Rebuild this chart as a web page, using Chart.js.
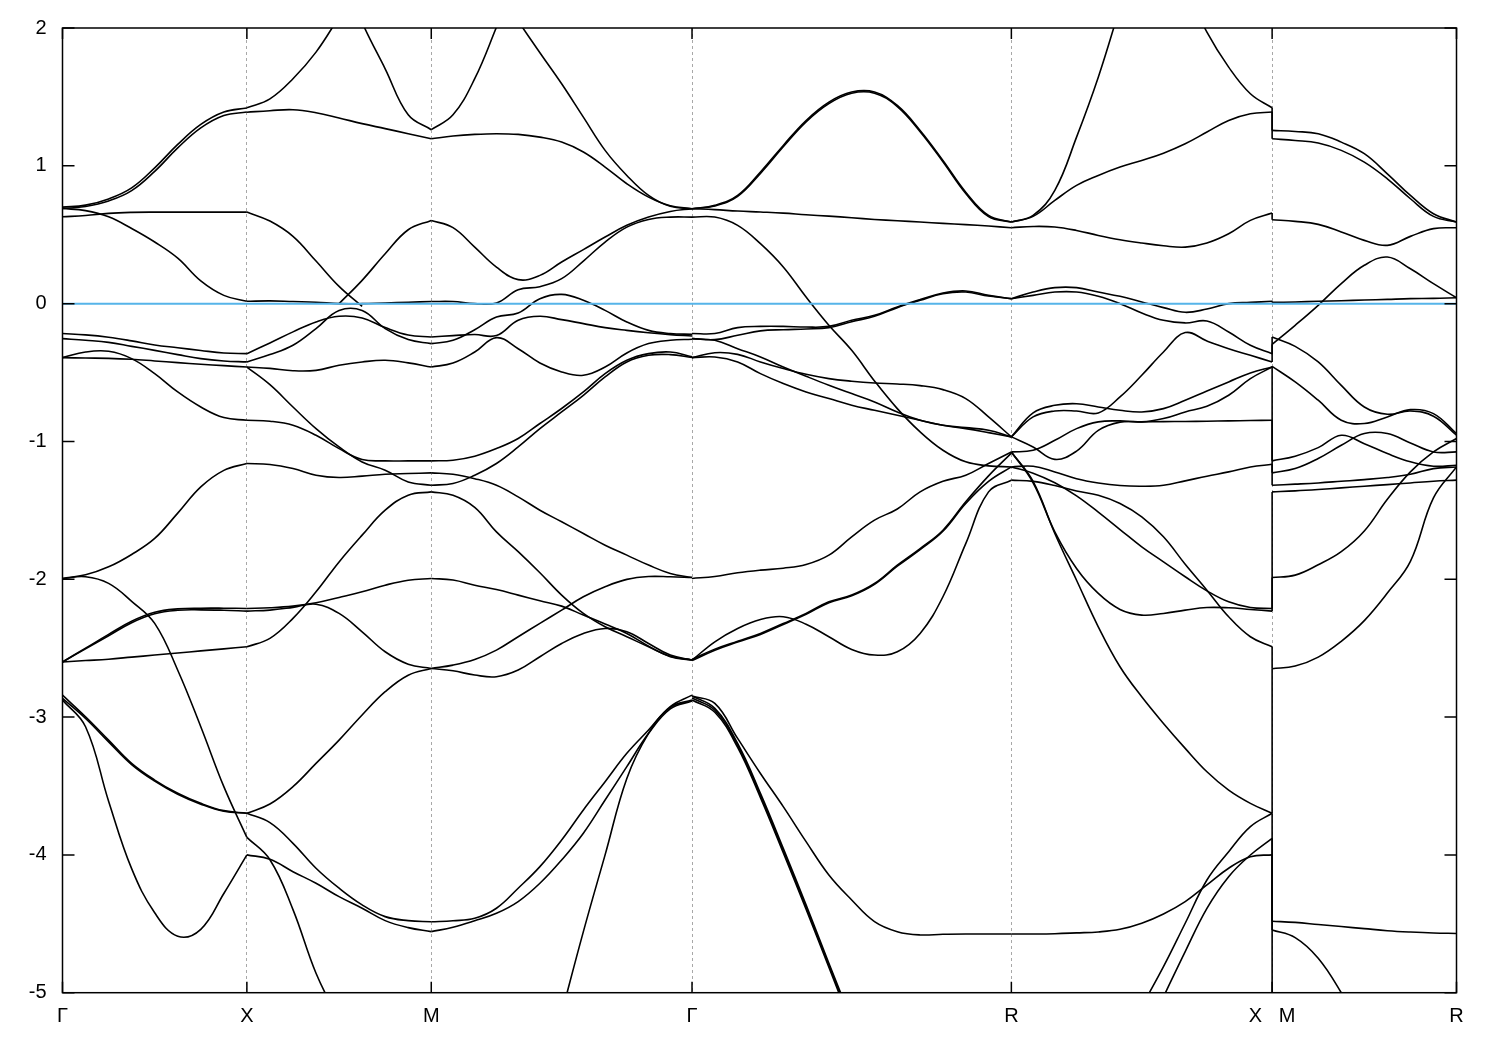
<!DOCTYPE html>
<html>
<head>
<meta charset="utf-8">
<title>Band structure</title>
<script src="https://cdn.jsdelivr.net/npm/chart.js@4.4.1/dist/chart.umd.min.js"></script>
<style>
  html, body { margin: 0; padding: 0; background: #fff; }
  canvas { display: block; }
</style>
</head>
<body>
<canvas id="bands" width="1500" height="1050"></canvas>
<script>
// k-path: G-X-M-G-R-X|M-R (distance along path, 2pi/a units)
const kNodes = [0, 0.5, 1.0, 1.7071, 2.5731, 3.2802, 3.7802];
const kLabels = ["Γ", "X", "M", "Γ", "R", "X   M", "R"];
const eMin = -5, eMax = 2, eStep = 1;
const fermiLevel = 0;

// G -> X (9 samples)
const gxA1 = [0.70, 0.715, 0.76, 0.84, 0.985, 1.155, 1.30, 1.39, 1.42];
const gxA2 = [0.69, 0.705, 0.745, 0.82, 0.96, 1.13, 1.275, 1.365, 1.39];
const gxB = [0.63, 0.64, 0.655, 0.662, 0.664, 0.664, 0.664, 0.664, 0.664];
const gxC = [0.69, 0.675, 0.63, 0.545, 0.447, 0.33, 0.165, 0.06, 0.017];
const gxD = [-0.217, -0.227, -0.244, -0.27, -0.30, -0.32, -0.34, -0.358, -0.363];
const gxE = [-0.254, -0.266, -0.281, -0.31, -0.339, -0.37, -0.399, -0.416, -0.423];
const gxF = [-0.392, -0.395, -0.397, -0.404, -0.416, -0.428, -0.44, -0.45, -0.46];
const gxG = [-0.392, -0.351, -0.346, -0.399, -0.508, -0.641, -0.75, -0.827, -0.846];
const gxH = [-1.994, -1.968, -1.91, -1.82, -1.704, -1.52, -1.33, -1.21, -1.16];
const gxI = [-1.994, -1.982, -2.03, -2.16, -2.32, -2.66, -3.07, -3.505, -3.873];
const gxJ = [-2.60, -2.50, -2.40, -2.305, -2.24, -2.215, -2.21, -2.21, -2.212];
const gxK = [-2.60, -2.505, -2.41, -2.315, -2.25, -2.225, -2.222, -2.225, -2.231];
const gxL = [-2.60, -2.59, -2.58, -2.565, -2.55, -2.535, -2.52, -2.505, -2.49];
const gxM = [-2.841, -2.998, -3.167, -3.336, -3.457, -3.553, -3.626, -3.679, -3.698];
const gxN = [-2.865, -3.01, -3.18, -3.345, -3.465, -3.56, -3.632, -3.684, -3.698];
const gxO = [-2.876, -3.07, -3.61, -4.10, -4.42, -4.59, -4.54, -4.28, -4.0];

// X -> M (9 samples)
const xmA = [1.421, 1.486, 1.632, 1.825, 2.08, null, null, null, null];
const xmB = [null, null, null, null, 2.45, 2.04, 1.704, 1.37, 1.262];
const xmC = [1.389, 1.40, 1.407, 1.385, 1.347, 1.306, 1.27, 1.233, 1.196];
const xmD = [0.664, 0.599, 0.488, 0.309, 0.125, -0.02, null, null, null];
const xmE = [null, null, null, null, 0.0, 0.169, 0.362, 0.536, 0.604];
const xmF = [0.017, 0.02, 0.015, 0.01, 0.0, 0.0, 0.005, 0.01, 0.015];
const xmG = [-0.363, -0.285, -0.205, -0.133, -0.092, -0.104, -0.174, -0.228, -0.242];
const xmH = [-0.423, -0.37, -0.302, -0.181, -0.05, -0.05, -0.181, -0.261, -0.29];
const xmI = [-0.46, -0.47, -0.487, -0.484, -0.447, -0.423, -0.411, -0.43, -0.46];
const xmJ = [-0.46, -0.588, -0.75, -0.907, -1.04, -1.149, -1.209, -1.294, -1.318];
const xmK = [-0.846, -0.853, -0.882, -0.955, -1.052, -1.131, -1.141, -1.141, -1.141];
const xmL = [-1.16, -1.167, -1.197, -1.245, -1.262, -1.252, -1.238, -1.233, -1.228];
const xmM = [-2.49, -2.429, -2.284, -2.091, -1.874, -1.68, -1.499, -1.39, -1.366];
const xmN = [-2.212, -2.207, -2.195, -2.171, -2.132, -2.091, -2.043, -2.007, -1.994];
const xmO = [-2.231, -2.224, -2.204, -2.181, -2.248, -2.381, -2.526, -2.616, -2.647];
const xmP = [-3.698, -3.631, -3.505, -3.336, -3.167, -2.985, -2.816, -2.696, -2.647];
const xmQ = [-3.698, -3.766, -3.916, -4.097, -4.242, -4.363, -4.448, -4.477, -4.485];
const xmR = [-3.873, -4.035, -4.397, -4.859, -5.2, null, null, null, null];
const xmS = [-4.0, -4.032, -4.122, -4.206, -4.303, -4.387, -4.477, -4.528, -4.557];

// M -> G (13 samples)
const mgA = [1.262, 1.37, 1.632, 2.006, 2.4, null, null, null, null, null, null, null, null];
const mgB = [null, null, null, null, 2.05, 1.82, 1.595, 1.353, 1.112, 0.93, 0.785, 0.706, 0.689];
const mgC = [1.196, 1.216, 1.228, 1.233, 1.228, 1.208, 1.172, 1.10, 0.991, 0.87, 0.773, 0.71, 0.689];
const mgD = [0.604, 0.551, 0.41, 0.265, 0.174, 0.205, 0.302, 0.392, 0.483, 0.568, 0.628, 0.669, 0.689];
const mgE = [0.015, 0.015, 0.0, 0.005, 0.101, 0.123, 0.181, 0.309, 0.447, 0.555, 0.611, 0.628, 0.628];
const mgF = [-0.29, -0.266, -0.189, -0.097, -0.068, 0.036, 0.067, 0.024, -0.049, -0.133, -0.194, -0.217, -0.223];
const mgG = [-0.242, -0.232, -0.224, -0.232, -0.121, -0.092, -0.116, -0.145, -0.174, -0.194, -0.211, -0.225, -0.235];
const mgH = [-0.46, -0.431, -0.351, -0.247, -0.327, -0.431, -0.496, -0.52, -0.46, -0.358, -0.29, -0.266, -0.259];
const mgI = [-1.141, -1.136, -1.107, -1.052, -0.979, -0.87, -0.761, -0.641, -0.508, -0.411, -0.363, -0.351, -0.385];
const mgJ = [-1.318, -1.305, -1.245, -1.16, -1.04, -0.907, -0.786, -0.665, -0.532, -0.423, -0.375, -0.37, -0.39];
const mgK = [-1.228, -1.238, -1.27, -1.318, -1.402, -1.499, -1.583, -1.668, -1.753, -1.825, -1.897, -1.958, -1.987];
const mgL = [-1.366, -1.39, -1.478, -1.656, -1.80, -1.953, -2.115, -2.248, -2.345, -2.417, -2.49, -2.558, -2.586];
const mgM = [-1.994, -2.006, -2.043, -2.075, -2.115, -2.156, -2.195, -2.26, -2.325, -2.393, -2.485, -2.562, -2.586];
const mgN = [-2.647, -2.623, -2.582, -2.514, -2.417, -2.32, -2.224, -2.127, -2.054, -2.001, -1.98, -1.982, -1.987];
const mgO = [-2.647, -2.664, -2.695, -2.707, -2.659, -2.562, -2.466, -2.393, -2.357, -2.381, -2.466, -2.55, -2.586];
const mgP = [-4.485, -4.478, -4.46, -4.387, -4.242, -4.085, -3.892, -3.674, -3.469, -3.263, -3.094, -2.925, -2.841];
const mgQ = [-4.557, -4.525, -4.478, -4.424, -4.339, -4.206, -4.037, -3.843, -3.602, -3.36, -3.118, -2.94, -2.884];
const mgR = [null, null, null, null, null, null, -5.15, -4.557, -4.0, -3.445, -3.118, -2.93, -2.876];

// G -> R (15 samples)
const grA = [0.689, 0.713, 0.785, 0.955, 1.148, 1.329, 1.462, 1.535, 1.535, 1.438, 1.257, 1.039, 0.809, 0.64, 0.592];
const grB = [0.689, 0.708, 0.778, 0.945, 1.138, 1.319, 1.452, 1.527, 1.527, 1.43, 1.248, 1.03, 0.80, 0.632, 0.592];
const grC = [0.689, 0.682, 0.672, 0.665, 0.657, 0.645, 0.635, 0.623, 0.611, 0.601, 0.592, 0.582, 0.573, 0.563, 0.551];
const grD = [0.628, 0.628, 0.568, 0.435, 0.266, 0.048, -0.157, -0.339, -0.561, -0.762, -0.931, -1.064, -1.148, -1.177, -1.185];
const grE = [-0.217, -0.217, -0.174, -0.165, -0.165, -0.17, -0.165, -0.121, -0.085, -0.024, 0.029, 0.077, 0.092, 0.06, 0.036];
const grF = [-0.254, -0.261, -0.23, -0.198, -0.189, -0.184, -0.174, -0.131, -0.092, -0.029, 0.024, 0.072, 0.084, 0.055, 0.036];
const grG = [-0.392, -0.356, -0.368, -0.423, -0.471, -0.513, -0.544, -0.563, -0.576, -0.583, -0.595, -0.624, -0.689, -0.822, -0.967];
const grH = [-0.254, -0.266, -0.327, -0.387, -0.46, -0.527, -0.592, -0.653, -0.713, -0.786, -0.846, -0.883, -0.90, -0.919, -0.967];
const grI = [-0.392, -0.387, -0.423, -0.508, -0.58, -0.641, -0.689, -0.737, -0.774, -0.81, -0.846, -0.883, -0.907, -0.936, -0.967];
const grJ = [-1.994, -1.98, -1.953, -1.934, -1.92, -1.893, -1.825, -1.692, -1.571, -1.49, -1.366, -1.289, -1.245, -1.16, -1.076];
const grK = [-2.582, -2.507, -2.449, -2.393, -2.321, -2.248, -2.164, -2.115, -2.031, -1.898, -1.777, -1.644, -1.438, -1.25, -1.085];
const grL = [-2.59, -2.515, -2.456, -2.40, -2.328, -2.255, -2.17, -2.12, -2.037, -1.905, -1.785, -1.652, -1.45, -1.29, -1.185];
const grM = [-2.587, -2.454, -2.357, -2.292, -2.272, -2.326, -2.417, -2.509, -2.55, -2.526, -2.393, -2.127, -1.741, -1.366, -1.281];
const grN = [-2.848, -2.937, -3.191, -3.554, -3.953, -4.363, -4.786, -5.2, null, null, null, null, null, null, null];
const grO = [-2.862, -2.95, -3.205, -3.57, -3.97, -4.38, -4.80, -5.22, null, null, null, null, null, null, null];
const grP = [-2.876, -2.965, -3.22, -3.585, -3.985, -4.395, -4.815, -5.24, null, null, null, null, null, null, null];
const grQ = [-2.848, -2.901, -3.155, -3.409, -3.65, -3.904, -4.146, -4.327, -4.484, -4.557, -4.581, -4.576, -4.574, -4.574, -4.574];

// R -> X (13 samples)
const rxA = [0.592, 0.64, 0.822, 1.208, 1.643, 2.15, null, null, null, null, null, null, null];
const rxB = [null, null, null, null, null, null, null, null, 2.3, 1.97, 1.716, 1.523, 1.421];
const rxC = [0.592, 0.633, 0.749, 0.858, 0.93, 0.991, 1.039, 1.092, 1.16, 1.245, 1.329, 1.378, 1.39];
const rxD = [0.551, 0.56, 0.556, 0.531, 0.495, 0.464, 0.44, 0.42, 0.41, 0.44, 0.507, 0.604, 0.657];
const rxE = [0.036, 0.084, 0.116, 0.116, 0.084, 0.053, 0.012, -0.029, -0.063, -0.039, 0.0, 0.009, 0.017];
const rxF = [0.036, 0.06, 0.084, 0.084, 0.053, 0.0, -0.068, -0.121, -0.14, -0.126, -0.206, -0.302, -0.363];
const rxG = [-0.967, -0.822, -0.779, -0.779, -0.793, -0.677, -0.52, -0.351, -0.21, -0.271, -0.327, -0.375, -0.423];
const rxH = [-0.967, -0.793, -0.738, -0.726, -0.75, -0.774, -0.786, -0.762, -0.701, -0.634, -0.568, -0.503, -0.46];
const rxI = [-1.076, -1.064, -0.992, -0.907, -0.858, -0.851, -0.858, -0.834, -0.786, -0.745, -0.665, -0.544, -0.46];
const rxJ = [-0.967, -1.04, -1.13, -1.07, -0.92, -0.86, -0.858, -0.856, -0.855, -0.853, -0.851, -0.848, -0.846];
const rxK = [-1.185, -1.18, -1.221, -1.27, -1.301, -1.32, -1.325, -1.318, -1.286, -1.252, -1.221, -1.185, -1.166];
const rxL = [-1.076, -1.29, -1.668, -2.007, -2.345, -2.635, -2.853, -3.046, -3.227, -3.397, -3.53, -3.626, -3.698];
const rxM = [-1.076, -1.30, -1.656, -1.922, -2.103, -2.219, -2.26, -2.248, -2.224, -2.205, -2.207, -2.219, -2.231];
const rxN = [-1.185, -1.23, -1.30, -1.395, -1.513, -1.639, -1.765, -1.874, -1.982, -2.084, -2.164, -2.205, -2.212];
const rxO = [-1.281, -1.29, -1.32, -1.36, -1.39, -1.45, -1.547, -1.692, -1.891, -2.079, -2.272, -2.417, -2.49];
const rxP = [-4.574, -4.574, -4.572, -4.566, -4.559, -4.54, -4.496, -4.429, -4.339, -4.218, -4.097, -4.013, -4.0];
const rxQ = [null, null, null, null, null, null, -5.1, -4.811, -4.496, -4.182, -3.977, -3.795, -3.698];
const rxR = [null, null, null, null, null, null, null, -5.03, -4.702, -4.388, -4.158, -4.001, -3.88];

// M -> R (9 samples)
const mrA = [1.257, 1.249, 1.233, 1.172, 1.088, 0.942, 0.785, 0.652, 0.592];
const mrB = [1.196, 1.184, 1.165, 1.112, 1.027, 0.906, 0.761, 0.633, 0.592];
const mrC = [0.609, 0.597, 0.575, 0.52, 0.459, 0.423, 0.488, 0.544, 0.551];
const mrD = [-0.295, -0.157, -0.012, 0.145, 0.278, 0.338, 0.253, 0.145, 0.043];
const mrE = [0.009, 0.012, 0.017, 0.021, 0.026, 0.031, 0.036, 0.038, 0.043];
const mrF = [-0.242, -0.31, -0.423, -0.593, -0.75, -0.803, -0.779, -0.817, -0.955];
const mrG = [-0.455, -0.568, -0.701, -0.846, -0.87, -0.822, -0.769, -0.798, -0.943];
const mrH = [-1.141, -1.107, -1.045, -0.955, -1.016, -1.088, -1.148, -1.18, -1.173];
const mrI = [-1.228, -1.197, -1.124, -1.028, -0.943, -0.943, -1.011, -1.076, -1.076];
const mrJ = [-1.318, -1.31, -1.301, -1.289, -1.277, -1.262, -1.238, -1.197, -1.185];
const mrK = [-1.366, -1.359, -1.349, -1.337, -1.325, -1.313, -1.301, -1.289, -1.281];
const mrL = [-1.987, -1.97, -1.895, -1.80, -1.65, -1.42, -1.221, -1.076, -0.979];
const mrM = [-2.649, -2.63, -2.565, -2.45, -2.30, -2.10, -1.87, -1.41, -1.185];
const mrN = [-4.481, -4.49, -4.505, -4.52, -4.535, -4.55, -4.56, -4.567, -4.57];
const mrO = [-4.545, -4.60, -4.75, -5.0, -5.3, null, null, null, null];
const mrBelow = [-5.5, -5.5, -5.5, -5.5, -5.5, -5.5, -5.5, -5.5, -5.5];

const segments = [
  { from: 0, to: 1, bands: [gxA1, gxA2, gxB, gxC, gxD, gxE, gxF, gxG, gxH, gxI, gxJ, gxK, gxL, gxM, gxN, gxO] },
  { from: 1, to: 2, bands: [xmA, xmB, xmC, xmD, xmE, xmF, xmG, xmH, xmI, xmJ, xmK, xmL, xmM, xmN, xmO, xmP, xmQ, xmR, xmS] },
  { from: 2, to: 3, bands: [mgA, mgB, mgC, mgD, mgE, mgF, mgG, mgH, mgI, mgJ, mgK, mgL, mgM, mgN, mgO, mgP, mgQ, mgR] },
  { from: 3, to: 4, bands: [grA, grB, grC, grD, grE, grF, grG, grH, grI, grJ, grK, grL, grM, grN, grO, grP, grQ] },
  { from: 4, to: 5, bands: [rxA, rxB, rxC, rxD, rxE, rxF, rxG, rxH, rxI, rxJ, rxK, rxL, rxM, rxN, rxO, rxP, rxQ, rxR] },
  { from: 5, to: 6, bands: [mrA, mrB, mrC, mrD, mrE, mrF, mrG, mrH, mrI, mrJ, mrK, mrL, mrM, mrN, mrO, mrBelow] }
];

// band index continues across the X|M break: end of R-X band -> start of M-R band
const breakPairs = [
  [rxB, mrA], [rxC, mrB], [rxD, mrC], [rxE, mrE], [rxF, mrF], [rxG, mrD],
  [rxH, mrG], [rxI, mrH], [rxJ, mrI], [rxK, mrJ], [rxN, mrK], [rxM, mrL],
  [rxO, mrM], [rxL, mrM], [rxQ, mrN], [rxR, mrO], [rxP, mrBelow]
];

// box + inward tick marks, gnuplot style
const frame = {
  id: "frame",
  afterDatasetsDraw(chart) {
    const { ctx, chartArea: a, scales: { x, y } } = chart;
    ctx.save();
    ctx.strokeStyle = "#000";
    ctx.lineWidth = 1.5;
    ctx.strokeRect(a.left, a.top, a.right - a.left, a.bottom - a.top);
    ctx.beginPath();
    y.ticks.forEach(t => {
      const py = y.getPixelForValue(t.value);
      ctx.moveTo(a.left, py); ctx.lineTo(a.left + 12, py);
      ctx.moveTo(a.right, py); ctx.lineTo(a.right - 12, py);
    });
    x.ticks.forEach(t => {
      const px = x.getPixelForValue(t.value);
      ctx.moveTo(px, a.top); ctx.lineTo(px, a.top + 11);
      ctx.moveTo(px, a.bottom); ctx.lineTo(px, a.bottom - 11);
    });
    ctx.stroke();
    ctx.restore();
  }
};

document.addEventListener("DOMContentLoaded", () => {
  const datasets = [];
  const bandStyle = {
    borderColor: "#000",
    borderWidth: 1.6,
    pointRadius: 0,
    fill: false,
    tension: 0.4,
    capBezierPoints: false
  };

  // Fermi level first -> painted last (on top)
  datasets.push({
    data: [{ x: kNodes[0], y: fermiLevel }, { x: kNodes[kNodes.length - 1], y: fermiLevel }],
    borderColor: "#56b4e9",
    borderWidth: 2,
    pointRadius: 0
  });

  segments.forEach(seg => {
    const k0 = kNodes[seg.from], k1 = kNodes[seg.to];
    seg.bands.forEach(band => {
      const n = band.length - 1;
      const pts = [];
      band.forEach((e, i) => {
        if (e !== null) pts.push({ x: k0 + (k1 - k0) * i / n, y: e });
      });
      datasets.push({ data: pts, ...bandStyle });
    });
  });

  const kBreak = kNodes[5];
  breakPairs.forEach(([a, b]) => {
    datasets.push({
      data: [{ x: kBreak, y: a[a.length - 1] }, { x: kBreak, y: b[0] }],
      borderColor: "#000",
      borderWidth: 1.6,
      pointRadius: 0
    });
  });

  const font = { family: "'Liberation Sans', Arial, sans-serif", size: 20 };

  new Chart(document.getElementById("bands"), {
    type: "line",
    data: { datasets },
    options: {
      responsive: false,
      animation: false,
      devicePixelRatio: 1,
      events: [],
      layout: { padding: { top: 27.5, right: 43.5, left: 0, bottom: 0 } },
      plugins: { legend: { display: false }, tooltip: { enabled: false } },
      scales: {
        x: {
          type: "linear",
          min: kNodes[0],
          max: kNodes[kNodes.length - 1],
          afterBuildTicks: axis => { axis.ticks = kNodes.map(v => ({ value: v })); },
          afterFit: axis => { axis.height = 57.3; },
          ticks: {
            autoSkip: false,
            maxRotation: 0,
            padding: 12,
            color: "#000",
            font,
            callback: (v, i) => kLabels[i]
          },
          grid: {
            drawTicks: false,
            lineWidth: 1,
            color: c => (c.index > 0 && c.index < kNodes.length - 1) ? "#a8a8a8" : "rgba(0,0,0,0)"
          },
          border: { display: false, dash: [3, 3] }
        },
        y: {
          min: eMin,
          max: eMax,
          afterFit: axis => { axis.width = 62.5; },
          ticks: { stepSize: eStep, padding: 16, color: "#000", font },
          grid: { display: false, drawTicks: false },
          border: { display: false }
        }
      }
    },
    plugins: [frame]
  });
});
</script>
</body>
</html>
